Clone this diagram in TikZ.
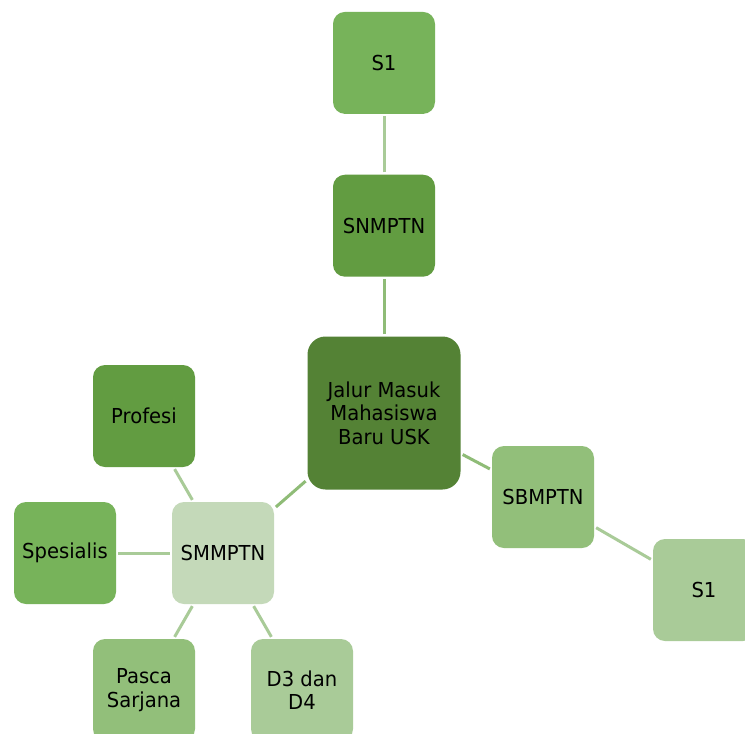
\documentclass[tikz,border=0pt]{standalone}
\usepackage{fontspec}
\setmainfont{DejaVu Sans}[FakeStretch=0.95]
\usetikzlibrary{positioning}
\definecolor{rootgreen}{HTML}{548235}
\definecolor{deepgreen}{HTML}{629C41}
\definecolor{midgreen}{HTML}{77B35A}
\definecolor{softgreen}{HTML}{92BF7A}
\definecolor{palegreen}{HTML}{A9CB98}
\definecolor{mistgreen}{HTML}{C4D9B9}
\definecolor{linkgreen}{HTML}{8FBC77}
\tikzset{
    jalurbox/.style={rectangle, rounded corners=6pt, minimum width=51pt, minimum height=51pt, inner sep=1pt, align=center, fill=#1, font=\fontsize{10.3}{11.8}\selectfont},
    rootbox/.style={jalurbox=rootgreen, minimum width=76.5pt, minimum height=76.5pt, rounded corners=9pt},
    link/.style={line width=1.5pt, draw=#1, shorten <=1pt, shorten >=1pt},
}
\begin{document}
\begin{tikzpicture}[x=0.5pt, y=-0.5pt]
\path[use as bounding box, clip] (0,0) rectangle (745,734);
\fill[white] (0,0) rectangle (745,734);

% Root
\node[rootbox] (root) at (384,413) {Jalur Masuk\\Mahasiswa\\Baru USK};

% SNMPTN branch
\node[jalurbox=deepgreen, above=29.5pt of root] (snmptn) {SNMPTN};
\node[jalurbox=midgreen, above=30pt of snmptn] (snmptn-s1) {S1};

% SBMPTN branch
\node[jalurbox=softgreen] (sbmptn) at (543,497) {SBMPTN};
\node[jalurbox=palegreen] (sbmptn-s1) at (704,590) {S1};

% SMMPTN branch
\node[jalurbox=mistgreen] (smmptn) at (223,553) {SMMPTN};
\node[jalurbox=deepgreen] (profesi) at (144,416) {Profesi};
\node[jalurbox=midgreen] (spesialis) at (65,553) {Spesialis};
\node[jalurbox=softgreen] (pasca) at (144,690) {Pasca\\Sarjana};
\node[jalurbox=palegreen] (d3d4) at (302,690) {D3 dan\\D4};

% Links
\draw[link=linkgreen] (root) -- (snmptn);
\draw[link=palegreen] (snmptn) -- (snmptn-s1);
\draw[link=linkgreen] (root) -- (sbmptn);
\draw[link=palegreen] (sbmptn) -- (sbmptn-s1);
\draw[link=linkgreen] (root) -- (smmptn);
\draw[link=palegreen] (smmptn) -- (profesi);
\draw[link=palegreen] (smmptn) -- (spesialis);
\draw[link=palegreen] (smmptn) -- (pasca);
\draw[link=palegreen] (smmptn) -- (d3d4);

\end{tikzpicture}
\end{document}
